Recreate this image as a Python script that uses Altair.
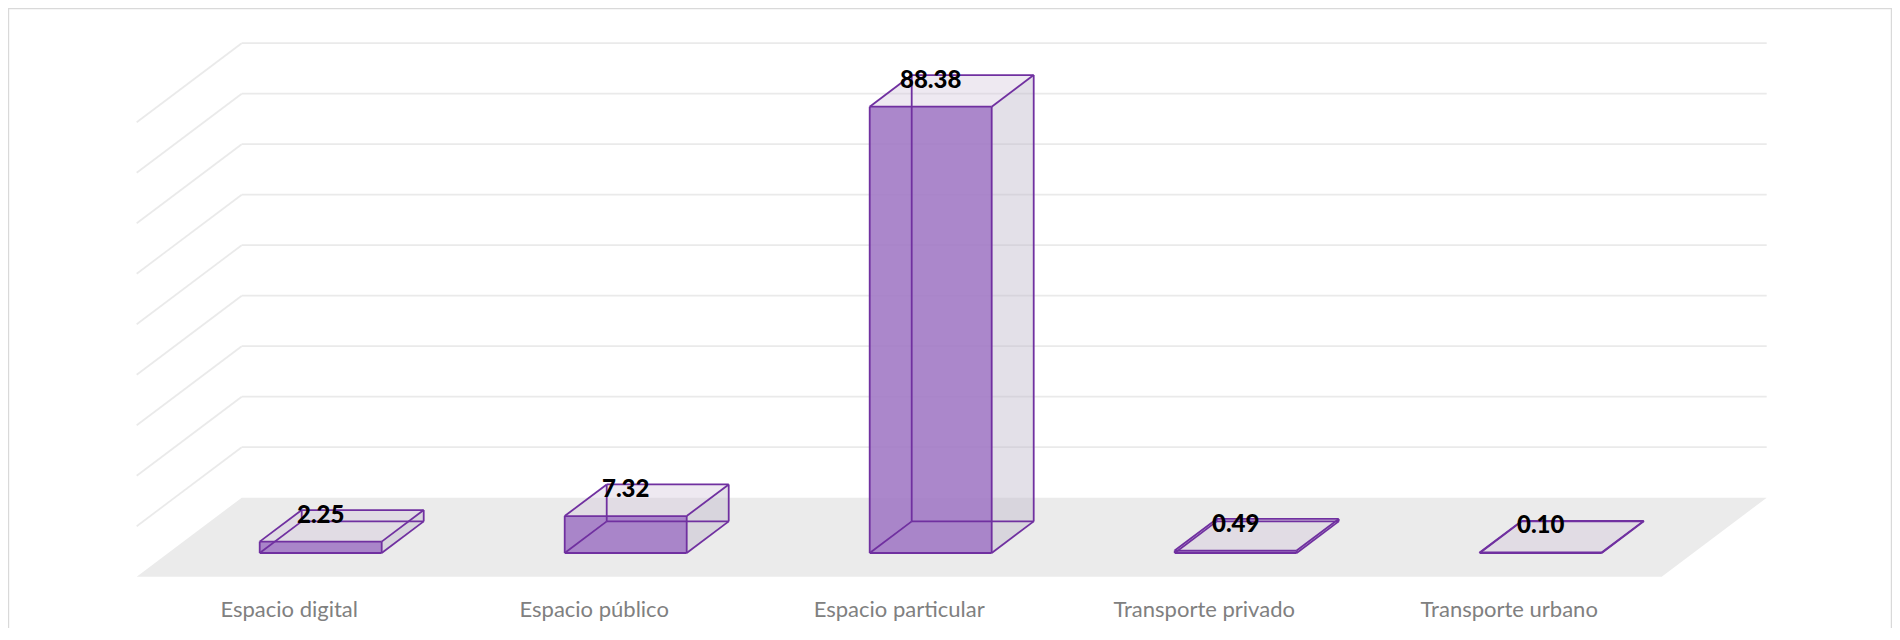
import altair as alt
import pandas as pd

# ---------------- data ----------------
categories = ["Espacio digital", "Espacio público", "Espacio particular",
              "Transporte privado", "Transporte urbano"]
values = [2.25, 7.32, 88.38, 0.49, 0.10]
grid_values = [10, 20, 30, 40, 50, 60, 70, 80, 90]

# ---------------- oblique 3-D geometry (in data units) ----------------
DX = 0.3443      # horizontal shift of the full floor depth, category units
DY = 15.644      # vertical shift of the full floor depth, value units
D_FRONT, D_BACK = 0.3, 0.7   # bar depth inside the floor
HALF = 0.2                   # half bar width, category units
N = len(categories)

W, H = 1884, 620
X_DOMAIN = [-0.42197, 5.75508]
Y_DOMAIN = [-10.158, 112.614]

PURPLE = "#7030A0"


def proj(c, v, d):
    return c + d * DX, v + d * DY


front_rows, side_rows, top_rows, edge_rows = [], [], [], []
for i, (cat, v) in enumerate(zip(categories, values)):
    c = i + 0.5
    xl, xr = c - HALF, c + HALF
    fx0, fy0 = proj(xl, 0, D_FRONT)
    fx1, fy1 = proj(xr, v, D_FRONT)
    tx, ty = proj(c, v, D_FRONT)
    front_rows.append(dict(cat=cat, value=v, x=fx0, x2=fx1, y=fy0, y2=fy1, tx=tx, ty=ty))
    for d in (D_FRONT, D_BACK):
        sx, sy = proj(xr, 0, d)
        _, sy2 = proj(xr, v, d)
        side_rows.append(dict(cat=cat, x=sx, y=sy, y2=sy2))
        ax, ay = proj(xl, v, d)
        ax2, _ = proj(xr, v, d)
        top_rows.append(dict(cat=cat, y=ay, x=ax, x2=ax2))
    corners = {}
    for cx_ in (xl, xr):
        for vv in (0, v):
            for d in (D_FRONT, D_BACK):
                corners[(cx_, vv, d)] = proj(cx_, vv, d)
    pairs = []
    for vv in (0, v):
        for d in (D_FRONT, D_BACK):
            pairs.append(((xl, vv, d), (xr, vv, d)))
    for cx_ in (xl, xr):
        for d in (D_FRONT, D_BACK):
            pairs.append(((cx_, 0, d), (cx_, v, d)))
    for cx_ in (xl, xr):
        for vv in (0, v):
            pairs.append(((cx_, vv, D_FRONT), (cx_, vv, D_BACK)))
    for a, b in pairs:
        (x1, y1), (x2, y2) = corners[a], corners[b]
        edge_rows.append(dict(cat=cat, x=x1, y=y1, x2=x2, y2=y2))

front_df = pd.DataFrame(front_rows)
side_df = pd.DataFrame(side_rows)
top_df = pd.DataFrame(top_rows)
edge_df = pd.DataFrame(edge_rows)

floor_rows = []
for d in (0, 1):
    x0, y0 = proj(0, 0, d)
    x1, _ = proj(N, 0, d)
    floor_rows.append(dict(k="floor", y=y0, x=x0, x2=x1))
floor_df = pd.DataFrame(floor_rows)

grid_rows = []
for g in grid_values:
    bx0, by0 = proj(0, g, 1)
    bx1, _ = proj(N, g, 1)
    grid_rows.append(dict(x=bx0, y=by0, x2=bx1, y2=by0))
    sx0, sy0 = proj(0, g, 0)
    grid_rows.append(dict(x=sx0, y=sy0, x2=bx0, y2=by0))
grid_df = pd.DataFrame(grid_rows)

cat_df = pd.DataFrame(dict(cat=categories,
                           x=[proj(i + 0.5, 0, 0)[0] for i in range(N)],
                           y=[0.0] * N))

# ---------------- chart ----------------
xs = alt.Scale(domain=X_DOMAIN, nice=False, zero=False)
ys = alt.Scale(domain=Y_DOMAIN, nice=False, zero=False)


def X(f="x"):
    return alt.X(f"{f}:Q", scale=xs, axis=None)


def Y(f="y"):
    return alt.Y(f"{f}:Q", scale=ys, axis=None)


frame = alt.Chart(pd.DataFrame({"k": [0]})).mark_rect(
    fill=None, stroke="#D9D9D9", strokeWidth=1.2
).encode(x=alt.value(0.6), x2=alt.value(W - 0.6), y=alt.value(0.6), y2=alt.value(H + 60))

floor = alt.Chart(floor_df).mark_area(orient="horizontal", color="#EBEBEB").encode(
    y=Y(), x=X(), x2="x2:Q")

grid = alt.Chart(grid_df).mark_rule(color="#EAEAEA", strokeWidth=1.7).encode(
    x=X(), y=Y(), x2="x2:Q", y2="y2:Q")

side = alt.Chart(side_df).mark_area(orient="vertical", color="#C1BACC", opacity=0.45).encode(
    x=X(), y=Y(), y2="y2:Q", detail="cat:N")

top = alt.Chart(top_df).mark_area(orient="horizontal", color="#D1C6DA", opacity=0.38).encode(
    y=Y(), x=X(), x2="x2:Q", detail="cat:N")

front = alt.Chart(front_df).mark_rect(color="#9F76C4", opacity=0.88).encode(
    x=X(), x2="x2:Q", y=Y(), y2="y2:Q")

edges = alt.Chart(edge_df).mark_rule(color=PURPLE, strokeWidth=1.8).encode(
    x=X(), y=Y(), x2="x2:Q", y2="y2:Q")

value_text = alt.Chart(front_df).mark_text(
    font="Lato", fontSize=24, fontWeight=900, color="black",
    baseline="middle", align="center", dy=-26
).encode(x=X("tx"), y=Y("ty"), text=alt.Text("value:Q", format=".2f"))

cat_text = alt.Chart(cat_df).mark_text(
    font="Lato", fontSize=22, color="#808080", baseline="alphabetic", align="center", dy=40
).encode(x=X(), y=Y(), text="cat:N")

chart = alt.layer(frame, floor, grid, side, top, front, edges, value_text, cat_text).properties(
    width=W, height=H, padding=0,
    autosize=alt.AutoSizeParams(type="none")
).configure_view(stroke=None)

chart.save("out.html", embed_options={"renderer": "svg", "actions": False})
